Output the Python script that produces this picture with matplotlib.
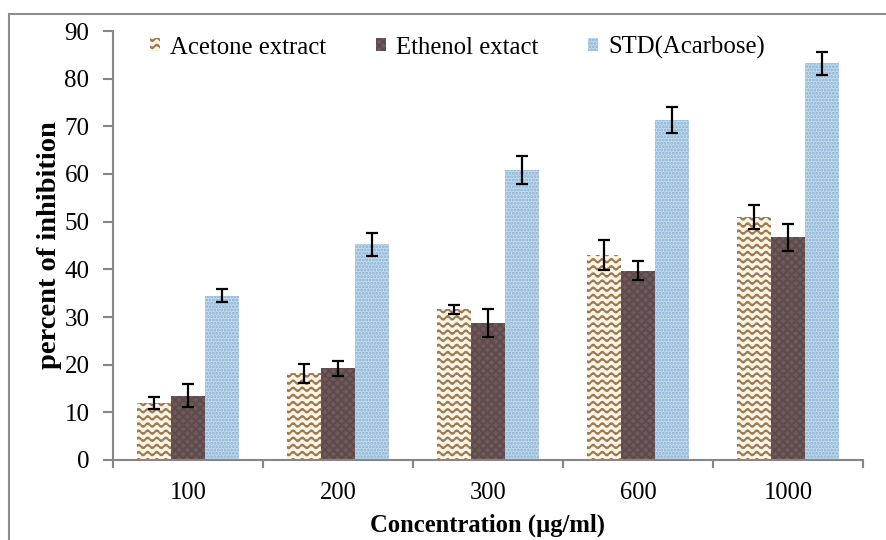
import numpy as np
import matplotlib
matplotlib.use("Agg")
import matplotlib.pyplot as plt
import matplotlib.hatch as mhatch
from matplotlib.path import Path
from matplotlib.patches import Rectangle

categories = ["100", "200", "300", "600", "1000"]
series_names = ["Acetone extract", "Ethenol extact", "STD(Acarbose)"]
acetone = [11.9, 18.2, 31.6, 43.0, 51.0]
acetone_err = [1.3, 2.0, 0.9, 3.1, 2.5]
ethanol = [13.5, 19.2, 28.7, 39.7, 46.7]
ethanol_err = [2.4, 1.5, 2.9, 2.0, 2.8]
std = [34.5, 45.3, 60.8, 71.3, 83.2]
std_err = [1.4, 2.4, 3.0, 2.7, 2.4]


class WaveHatch(mhatch.HatchPatternBase):
    def __init__(self, hatch, density):
        self.num_lines = int(hatch.count('w') * density * 7 / 6)
        self.npts = 11 * 12 + 1
        self.num_vertices = self.num_lines * self.npts

    def set_vertices_and_codes(self, vertices, codes):
        ys = (np.arange(self.num_lines) + 0.5) / self.num_lines
        x = np.linspace(0, 1, self.npts)
        for i, y0 in enumerate(ys):
            sl = slice(i * self.npts, (i + 1) * self.npts)
            vertices[sl, 0] = x
            vertices[sl, 1] = y0 + 0.018 * np.sin(2 * np.pi * 11 * x)
            codes[sl] = Path.LINETO
            codes[i * self.npts] = Path.MOVETO


mhatch._hatch_types.append(WaveHatch)

plt.rcParams['font.family'] = ['Liberation Serif', 'DejaVu Serif']
plt.rcParams['hatch.linewidth'] = 1.4

fig = plt.figure(figsize=(8.87, 5.4), dpi=100)
fig.patches.append(Rectangle((9 / 887, -0.1), 1.2, 1 - 14 / 540 + 0.1,
                             transform=fig.transFigure, fill=False,
                             edgecolor='#8c8c8c', linewidth=1.5))
ax = fig.add_axes([113 / 887, 1 - 460 / 540, 750 / 887, 429 / 540])

x = np.arange(len(categories))
w = 0.225
styles = [
    dict(facecolor='#fdf5e4', edgecolor='#9c7a55', hatch='ww'),
    dict(facecolor='#6e5a5a', edgecolor='#5e4a4a', hatch='xxxx'),
    dict(facecolor='#c3dcef', edgecolor='#88b0d0', hatch='.....'),
]
vals = [acetone, ethanol, std]
errs = [acetone_err, ethanol_err, std_err]
for i, (v, e, st, name) in enumerate(zip(vals, errs, styles, series_names)):
    pos = x + (i - 1) * w
    ax.bar(pos, v, width=w, linewidth=0, label=name, **st)
    ax.errorbar(pos, v, yerr=e, fmt='none', ecolor='black', elinewidth=1.6,
                capsize=4, capthick=1.6)

ax.set_xlim(-0.5, len(categories) - 0.5)
ax.set_ylim(0, 90)
ax.set_yticks(np.arange(0, 91, 10))
ax.set_xticks(np.arange(-0.5, len(categories)), minor=False)
ax.set_xticklabels([])
ax.set_xticks(x, minor=True)
ax.set_xticklabels(categories, minor=True)
ax.tick_params(axis='x', which='minor', length=0, pad=16, labelsize=17.7)
ax.tick_params(axis='x', which='major', length=6, width=1.5, color='#868686', direction='out')
ax.tick_params(axis='y', length=7, width=1.5, color='#868686', direction='out', labelsize=18, pad=10)
for s in ['top', 'right']:
    ax.spines[s].set_visible(False)
for s in ['left', 'bottom']:
    ax.spines[s].set_color('#868686')
    ax.spines[s].set_linewidth(1.5)

ax.set_xlabel('Concentration (µg/ml)', fontsize=17.7, fontweight='bold')
ax.xaxis.set_label_coords((488 - 113) / 750, (460 - 525) / 429)
ax.xaxis.label.set_va('center')
ax.set_ylabel('percent of inhibition', fontsize=20.5, fontweight='bold')
ax.yaxis.set_label_coords((50 - 113) / 750, 0.5)
ax.yaxis.label.set_va('center')

leg = ax.legend(loc='upper left', bbox_to_anchor=((150 - 113) / 750, (460 - 36) / 429),
                ncol=3, frameon=False, borderpad=0, borderaxespad=0,
                fontsize=17.8, handlelength=0.42, handleheight=0.42, handletextpad=0.4,
                columnspacing=2.0)

fig.savefig('out.png', dpi=100)
